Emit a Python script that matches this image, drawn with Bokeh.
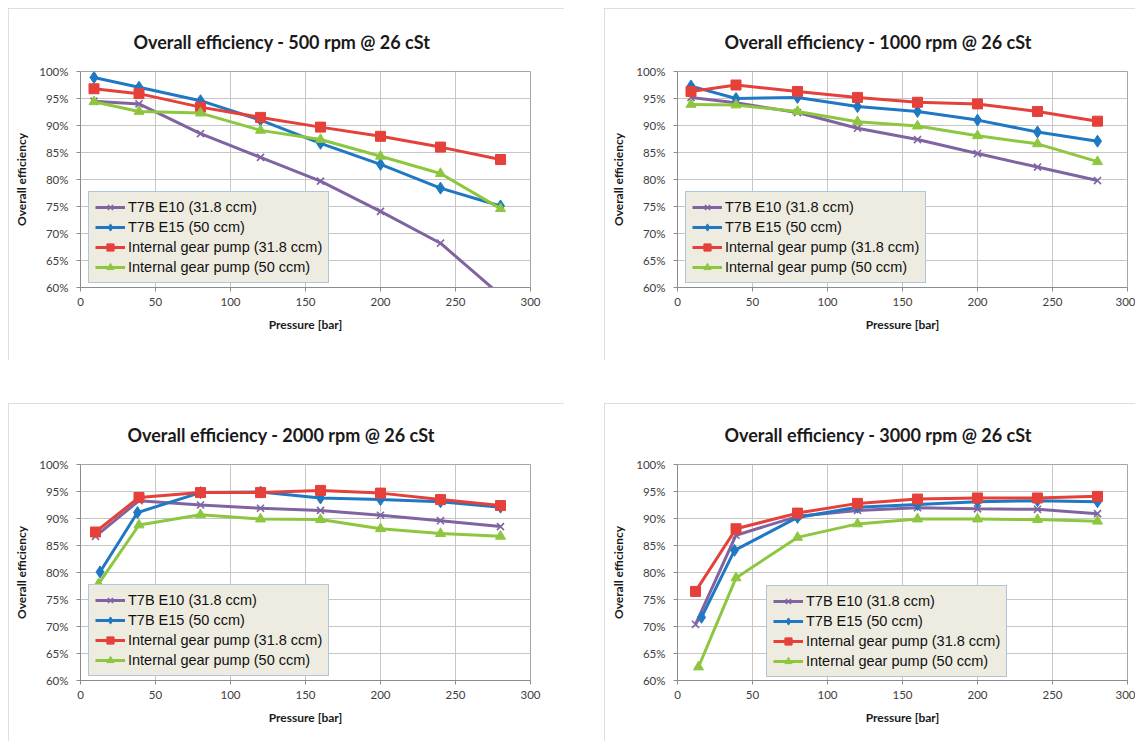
from bokeh.plotting import figure
from bokeh.layouts import column, row
from bokeh.models import Spacer, FixedTicker, PrintfTickFormatter, Range1d
from bokeh.embed import file_html
from bokeh.resources import INLINE

# ---------------- data ----------------
series_names = ["T7B E10 (31.8 ccm)", "T7B E15 (50 ccm)",
                "Internal gear pump (31.8 ccm)", "Internal gear pump (50 ccm)"]
series_colors = ["#8064a2", "#1f78c4", "#e5403a", "#8dc63f"]
series_markers = ["x", "diamond", "square", "triangle"]
x_ticks = [0, 50, 100, 150, 200, 250, 300]
y_ticks = [60, 65, 70, 75, 80, 85, 90, 95, 100]

# 500 rpm
x500 = [9, 39, 80, 120, 160, 200, 240, 280]
e10_500 = [94.5, 94.0, 88.5, 84.1, 79.7, 74.1, 68.2, 58.6]
e15_500 = [98.9, 97.1, 94.6, 91.0, 86.7, 82.8, 78.4, 75.1]
igp318_500 = [96.8, 95.9, 93.4, 91.5, 89.7, 88.0, 86.0, 83.7]
igp50_500 = [94.4, 92.6, 92.3, 89.1, 87.4, 84.3, 81.1, 74.6]

# 1000 rpm
x1000 = [9, 39, 80, 120, 160, 200, 240, 280]
e10_1000 = [95.2, 94.2, 92.4, 89.5, 87.4, 84.8, 82.3, 79.8]
e15_1000 = [97.3, 95.0, 95.2, 93.5, 92.6, 91.0, 88.8, 87.1]
igp318_1000 = [96.3, 97.5, 96.3, 95.2, 94.3, 94.0, 92.6, 90.8]
igp50_1000 = [93.9, 93.8, 92.6, 90.7, 89.9, 88.1, 86.6, 83.3]

# 2000 rpm
x2000_e10 = [10, 39, 80, 120, 160, 200, 240, 280]
x2000_e15 = [13, 38, 80, 120, 160, 200, 240, 280]
x2000_igp318 = [10, 39, 80, 120, 160, 200, 240, 280]
x2000_igp50 = [12, 39, 80, 120, 160, 200, 240, 280]
e10_2000 = [86.7, 93.3, 92.5, 91.9, 91.5, 90.6, 89.6, 88.5]
e15_2000 = [80.1, 91.1, 94.8, 94.9, 93.8, 93.5, 93.1, 92.1]
igp318_2000 = [87.5, 93.9, 94.8, 94.8, 95.2, 94.7, 93.5, 92.4]
igp50_2000 = [77.9, 88.8, 90.7, 89.9, 89.8, 88.1, 87.2, 86.7]

# 3000 rpm
x3000_e10 = [12, 39, 80, 120, 160, 200, 240, 280]
x3000_e15 = [16, 38, 80, 120, 160, 200, 240, 280]
x3000_igp318 = [12, 39, 80, 120, 160, 200, 240, 280]
x3000_igp50 = [14, 39, 80, 120, 160, 200, 240, 280]
e10_3000 = [70.4, 86.9, 90.4, 91.5, 92.0, 91.8, 91.7, 90.9]
e15_3000 = [71.7, 84.1, 90.2, 92.1, 92.6, 93.1, 93.3, 93.1]
igp318_3000 = [76.5, 88.1, 91.0, 92.8, 93.6, 93.8, 93.8, 94.1]
igp50_3000 = [62.5, 79.0, 86.5, 89.0, 89.9, 89.9, 89.8, 89.5]

titles = ["Overall efficiency - 500 rpm @ 26 cSt",
          "Overall efficiency - 1000 rpm @ 26 cSt",
          "Overall efficiency - 2000 rpm @ 26 cSt",
          "Overall efficiency - 3000 rpm @ 26 cSt"]

panels_data = [
    ([x500, x500, x500, x500], [e10_500, e15_500, igp318_500, igp50_500]),
    ([x1000, x1000, x1000, x1000], [e10_1000, e15_1000, igp318_1000, igp50_1000]),
    ([x2000_e10, x2000_e15, x2000_igp318, x2000_igp50],
     [e10_2000, e15_2000, igp318_2000, igp50_2000]),
    ([x3000_e10, x3000_e15, x3000_igp318, x3000_igp50],
     [e10_3000, e15_3000, igp318_3000, igp50_3000]),
]

TITLE_FONT = "Lato"
LABEL_FONT = "Lato"
LEGEND_FONT = "Liberation Sans"


def make_panel(title, xs, ys, width, height, left, right, top, bottom,
               legend_loc, title_offset):
    p = figure(width=width, height=height, output_backend="svg", toolbar_location=None,
               x_range=Range1d(0, 300), y_range=Range1d(60, 100),
               min_border_left=left, min_border_right=right,
               min_border_top=top, min_border_bottom=bottom,
               background_fill_color="white", border_fill_color="white",
               styles={"outline": "1px solid #d4d4d4", "outline-offset": "-1px"})
    p.title.text = title
    p.title.align = "left"
    p.title.offset = title_offset
    p.title.standoff = 37
    p.title.text_font = TITLE_FONT
    p.title.text_font_size = "18px"
    p.title.text_font_style = "bold"
    p.title.text_color = "#1a1a1a"

    p.outline_line_color = "#a6a6a6"
    for g in (p.xgrid, p.ygrid):
        g.grid_line_color = "#c6c6c6"
        g.grid_line_width = 1
    p.xaxis.ticker = FixedTicker(ticks=x_ticks)
    p.yaxis.ticker = FixedTicker(ticks=y_ticks)
    p.yaxis.formatter = PrintfTickFormatter(format="%d%%")
    for ax in (p.xaxis, p.yaxis):
        ax.axis_line_color = "#8c8c8c"
        ax.major_tick_line_color = "#8c8c8c"
        ax.major_tick_in = 0
        ax.major_tick_out = 4
        ax.minor_tick_line_color = None
        ax.major_label_text_font = LABEL_FONT
        ax.major_label_text_font_size = "11.5px"
        ax.major_label_text_color = "#404040"
        ax.axis_label_text_font = LABEL_FONT
        ax.axis_label_text_font_size = "12px"
        ax.axis_label_text_font_style = "bold"
        ax.axis_label_text_color = "#1a1a1a"
    p.xaxis.axis_label = "Pressure [bar]"
    p.yaxis.axis_label = "Overall efficiency"
    p.xaxis.major_label_standoff = 6
    p.yaxis.major_label_standoff = 8
    p.xaxis.axis_label_standoff = 8
    p.yaxis.axis_label_standoff = 7

    for i in range(4):
        c = series_colors[i]
        p.line(xs[i], ys[i], line_color=c, line_width=3, legend_label=series_names[i])
        if series_markers[i] == "x":
            p.scatter(xs[i], ys[i], marker="x", size=10, line_color=c, line_width=1.6,
                      legend_label=series_names[i])
        else:
            sz = 10 if series_markers[i] != "diamond" else 12
            p.scatter(xs[i], ys[i], marker=series_markers[i], size=sz, fill_color=c,
                      line_color=c, legend_label=series_names[i])

    lg = p.legend[0]
    lg.location = legend_loc
    lg.background_fill_color = "#eeece1"
    lg.background_fill_alpha = 1.0
    lg.border_line_color = "#6f9fd2"
    lg.border_line_width = 1
    lg.label_text_font = LEGEND_FONT
    lg.label_text_font_size = "14.5px"
    lg.label_text_color = "#111111"
    lg.glyph_width = 30
    lg.glyph_height = 18
    lg.label_height = 18
    lg.label_standoff = 3
    lg.spacing = 2
    lg.padding = 6
    lg.margin = 0
    return p


p1 = make_panel(titles[0], *panels_data[0], width=556, height=352,
                left=72, right=34, top=63, bottom=73, legend_loc=(8, 4), title_offset=53)
p2 = make_panel(titles[1], *panels_data[1], width=531, height=352,
                left=73, right=8, top=63, bottom=73, legend_loc=(8, 4), title_offset=47)
p3 = make_panel(titles[2], *panels_data[2], width=556, height=338,
                left=72, right=34, top=61, bottom=61, legend_loc=(8, 4), title_offset=47)
p4 = make_panel(titles[3], *panels_data[3], width=531, height=338,
                left=73, right=8, top=61, bottom=61, legend_loc=(89, 3), title_offset=47)

layout = column(Spacer(height=8),
                row(Spacer(width=8), p1, Spacer(width=40), p2),
                Spacer(height=43),
                row(Spacer(width=8), p3, Spacer(width=40), p4))

open("out.html", "w").write(file_html(layout, INLINE))
